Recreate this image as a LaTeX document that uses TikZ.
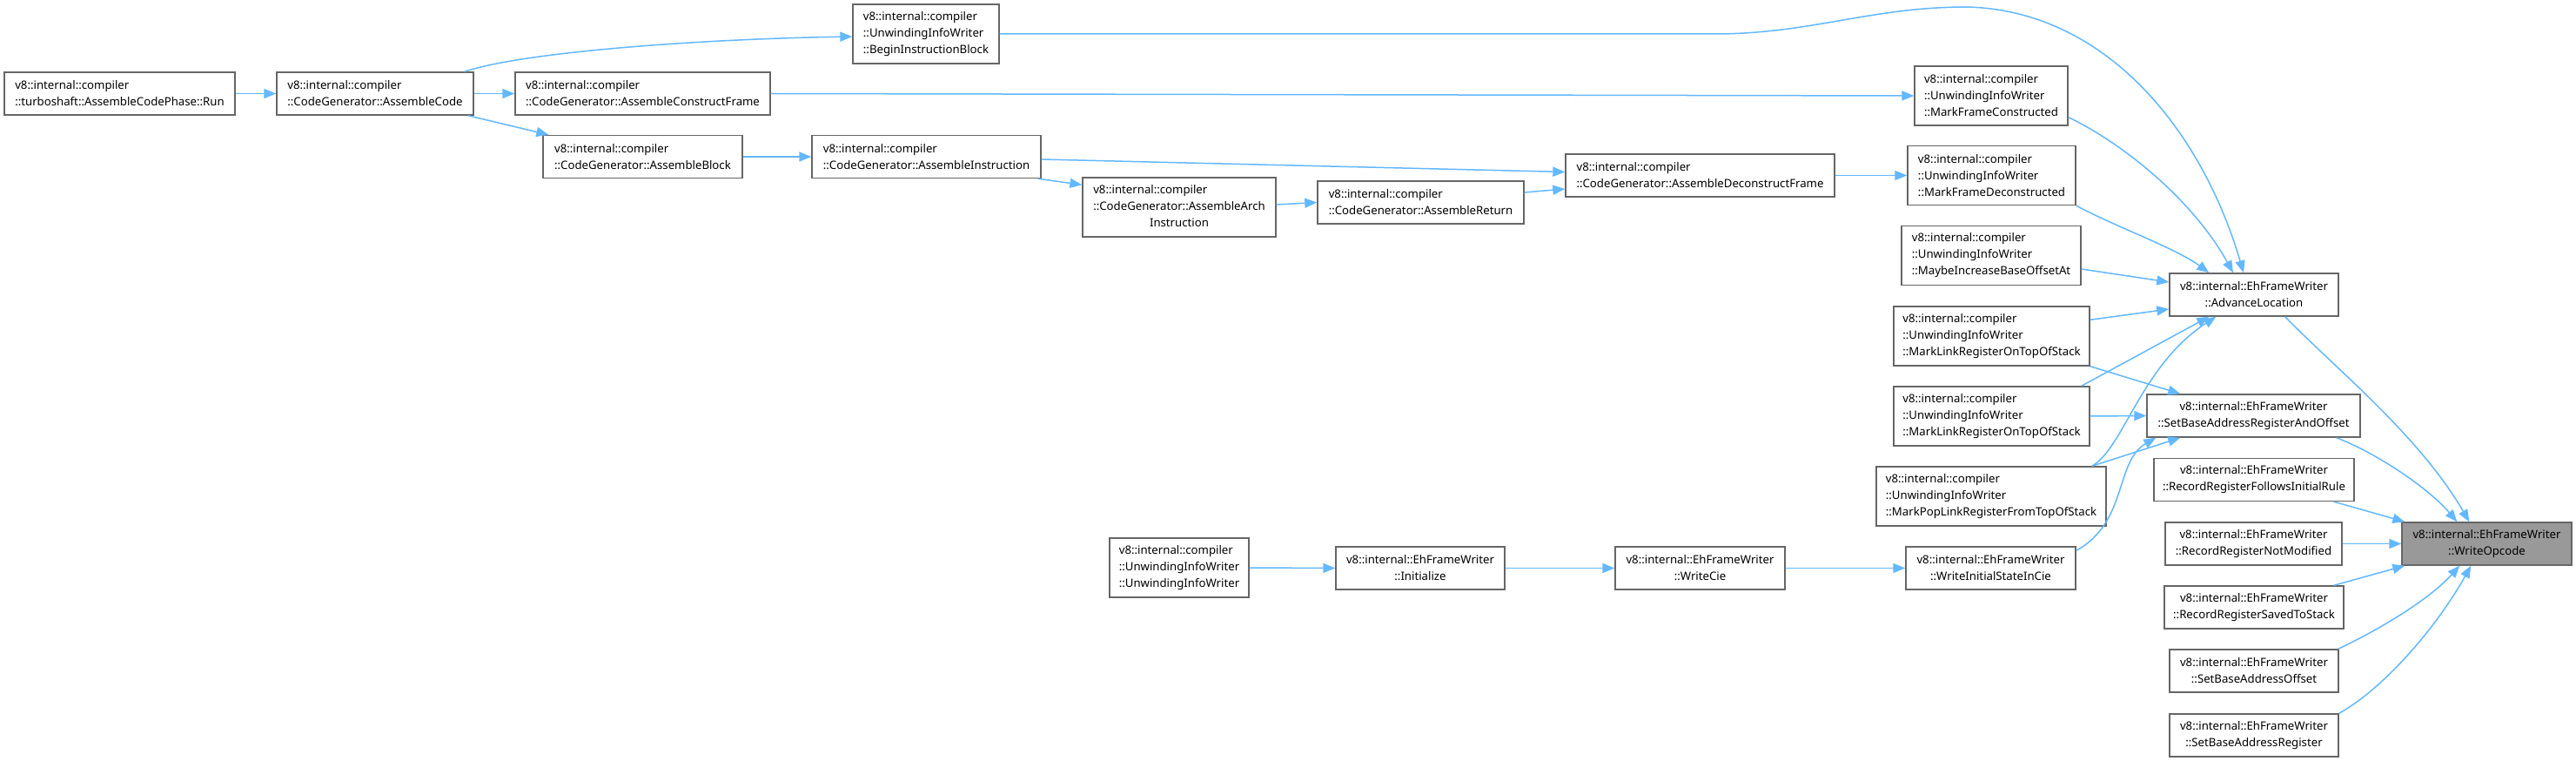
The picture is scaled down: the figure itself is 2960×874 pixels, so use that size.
\documentclass[tikz,border=0pt]{standalone}
\usepackage{fontspec}
\setmainfont{Noto Sans}
\usetikzlibrary{arrows.meta,calc}
\definecolor{edgeblue}{HTML}{63B8FF}
\definecolor{boxgray}{HTML}{666666}
\definecolor{hlgray}{HTML}{999999}
\begin{document}
\begin{tikzpicture}[x=1pt,y=-1pt,
 fn/.style={draw=boxgray, line width=1.4pt, fill=white, inner sep=0pt, minimum height=49pt, font=\fontsize{13.2}{19}\selectfont},
 fnl/.style={fn, align=left},
 fnc/.style={fn, align=center},
 tall/.style={minimum height=68pt},
 call/.style={draw=edgeblue, line width=1.5pt, -{Triangle[length=14pt,width=11pt]}}]
\fill[white] (0,0) rectangle (2960,874);
\useasboundingbox (0,0) rectangle (2960,874);
% nodes
\node[fnl, minimum width=265pt] (run) at (137.5,107.5) {v8::internal::compiler\\::turboshaft::AssembleCodePhase::Run};
\node[fnl, minimum width=226pt] (code) at (431,107.5) {v8::internal::compiler\\::CodeGenerator::AssembleCode};
\node[fnl, minimum width=293pt] (cframe) at (738.5,107.5) {v8::internal::compiler\\::CodeGenerator::AssembleConstructFrame};
\node[fnl, tall, minimum width=168pt] (bib) at (1064,39) {v8::internal::compiler\\::UnwindingInfoWriter\\::BeginInstructionBlock};
\node[fnl, minimum width=229pt] (block) at (738.5,180) {v8::internal::compiler\\::CodeGenerator::AssembleBlock};
\node[fnl, minimum width=263pt] (instr) at (1064.5,180) {v8::internal::compiler\\::CodeGenerator::AssembleInstruction};
\node[fn, tall, minimum width=222pt] (arch) at (1355,238) {\begin{tabular}{@{}l@{}}v8::internal::compiler\\::CodeGenerator::AssembleArch\\\multicolumn{1}{@{}c@{}}{Instruction}\end{tabular}};
\node[fnl, minimum width=237pt] (ret) at (1632.5,232.5) {v8::internal::compiler\\::CodeGenerator::AssembleReturn};
\node[fnl, minimum width=309pt] (dframe) at (1953.5,201.5) {v8::internal::compiler\\::CodeGenerator::AssembleDeconstructFrame};
\node[fnl, tall, minimum width=176pt] (mfc) at (2288,110) {v8::internal::compiler\\::UnwindingInfoWriter\\::MarkFrameConstructed};
\node[fnl, tall, minimum width=193pt] (mfd) at (2288.5,201.5) {v8::internal::compiler\\::UnwindingInfoWriter\\::MarkFrameDeconstructed};
\node[fnl, tall, minimum width=206pt] (maybe) at (2288,293.5) {v8::internal::compiler\\::UnwindingInfoWriter\\::MaybeIncreaseBaseOffsetAt};
\node[fnl, tall, minimum width=225pt] (mlra) at (2288.5,386) {v8::internal::compiler\\::UnwindingInfoWriter\\::MarkLinkRegisterOnTopOfStack};
\node[fnl, tall, minimum width=225pt] (mlrb) at (2288.5,478) {v8::internal::compiler\\::UnwindingInfoWriter\\::MarkLinkRegisterOnTopOfStack};
\node[fnl, tall, minimum width=264pt] (mpop) at (2288,570) {v8::internal::compiler\\::UnwindingInfoWriter\\::MarkPopLinkRegisterFromTopOfStack};
\node[fnc, minimum width=195pt] (wisic) at (2287.5,652.5) {v8::internal::EhFrameWriter\\::WriteInitialStateInCie};
\node[fnc, minimum width=195pt] (wcie) at (1953.5,652.5) {v8::internal::EhFrameWriter\\::WriteCie};
\node[fnc, minimum width=194pt] (init) at (1632,652.5) {v8::internal::EhFrameWriter\\::Initialize};
\node[fnl, tall, minimum width=160pt] (uiw) at (1355,652) {v8::internal::compiler\\::UnwindingInfoWriter\\::UnwindingInfoWriter};
\node[fnc, minimum width=194pt] (adv) at (2590,338.5) {v8::internal::EhFrameWriter\\::AdvanceLocation};
\node[fnc, minimum width=245pt] (sbaro) at (2589.5,477.5) {v8::internal::EhFrameWriter\\::SetBaseAddressRegisterAndOffset};
\node[fnc, minimum width=230pt] (rrfir) at (2590,551) {v8::internal::EhFrameWriter\\::RecordRegisterFollowsInitialRule};
\node[fnc, minimum width=203pt] (rrnm) at (2589.5,624.5) {v8::internal::EhFrameWriter\\::RecordRegisterNotModified};
\node[fnc, minimum width=206pt] (rrsts) at (2590,697.5) {v8::internal::EhFrameWriter\\::RecordRegisterSavedToStack};
\node[fnc, minimum width=194pt] (sbao) at (2590,770.5) {v8::internal::EhFrameWriter\\::SetBaseAddressOffset};
\node[fnc, minimum width=194pt] (sbar) at (2590,844.5) {v8::internal::EhFrameWriter\\::SetBaseAddressRegister};
\node[fnc, minimum width=195pt, fill=hlgray] (wop) at (2857.5,624.5) {v8::internal::EhFrameWriter\\::WriteOpcode};
% edges
\draw[call] (run.east) -- (code.west);
\draw[call] ($(code.north east)+(-11,0)$) .. controls (600,60) and (800,45) .. ($(bib.west)+(0,3)$);
\draw[call] (code.east) -- (cframe.west);
\draw[call] ($(code.south east)+(-7,0)$) -- ($(block.north west)+(7,0)$);
\draw[call] (cframe.east) -- ($(mfc.west)+(0,0)$);
\draw[call] (bib.east) -- (1970,39) .. controls (2080,39) and (2150,8) .. (2260,8) .. controls (2420,12) and (2530,150) .. ($(adv.north)+(-12,0)$);
\draw[call] (block.east) -- (instr.west);
\draw[call] ($(instr.east)+(0,3)$) -- ($(dframe.west)+(0,-4)$);
\draw[call] ($(instr.south east)+(-4,0)$) -- ($(arch.north west)+(0,9)$);
\draw[call] ($(arch.east)+(0,-3)$) -- (ret.west);
\draw[call] ($(ret.east)+(0,-11.5)$) -- ($(dframe.west)+(0,15.5)$);
\draw[call] (dframe.east) -- (mfd.west);
\draw[call] ($(mfc.south east)+(0,-10)$) .. controls (2440,165) and (2520,230) .. ($(adv.north)+(-24,0)$);
\draw[call] (mfd.south east) .. controls (2430,260) and (2500,285) .. ($(adv.north west)+(46,0)$);
\draw[call] ($(maybe.east)+(0,15.5)$) -- ($(adv.west)+(0,-14.5)$);
\draw[call] ($(mlra.north east)+(0,16)$) -- ($(adv.west)+(0,16.5)$);
\draw[call] (mlra.south east) -- ($(sbaro.north west)+(39,0)$);
\draw[call] ($(mlrb.north east)+(-10,0)$) -- ($(adv.south west)+(46,0)$);
\draw[call] (mlrb.east) -- (sbaro.west);
\draw[call] ($(mpop.north east)+(-17,0)$) .. controls (2440,515) and (2460,420) .. ($(adv.south west)+(54,0)$);
\draw[call] ($(mpop.north east)+(-17,0)$) -- ($(sbaro.south west)+(39,0)$);
\draw[call] ($(wisic.north east)+(0,5)$) .. controls (2445,600) and (2430,530) .. ($(sbaro.south west)+(11,0)$);
\draw[call] (wcie.east) -- (wisic.west);
\draw[call] (init.east) -- (wcie.west);
\draw[call] (uiw.east) -- (init.west);
\draw[call] ($(adv.south east)+(-62,0)$) .. controls (2680,420) and (2780,500) .. ($(wop.north west)+(78,0)$);
\draw[call] ($(sbaro.south east)+(-28,0)$) .. controls (2730,520) and (2790,560) .. ($(wop.north west)+(64,0)$);
\draw[call] ($(rrfir.south east)+(-24,0)$) -- ($(wop.north west)+(4,0)$);
\draw[call] (rrnm.east) -- (wop.west);
\draw[call] ($(rrsts.north east)+(-12,0)$) -- ($(wop.south west)+(4,0)$);
\draw[call] ($(sbao.north east)+(-1,0)$) .. controls (2730,725) and (2790,690) .. ($(wop.south west)+(67,0)$);
\draw[call] (sbar.north east) .. controls (2740,790) and (2800,720) .. ($(wop.south west)+(80,0)$);
\end{tikzpicture}
\end{document}
